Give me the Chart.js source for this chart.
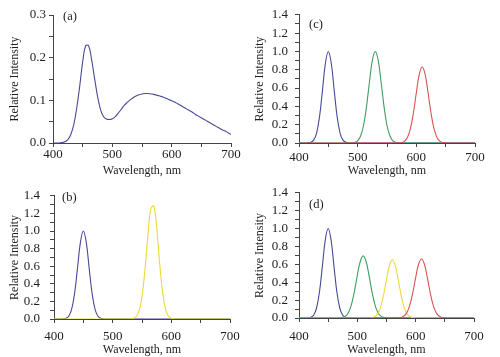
<!DOCTYPE html>
<html><head><meta charset="utf-8">
<script src="https://cdn.jsdelivr.net/npm/chart.js@4.4.0/dist/chart.umd.min.js"></script>
<style>
html,body{margin:0;padding:0;background:#fff;}
#wrap{position:relative;width:500px;height:357px;overflow:hidden;background:#fff;}
canvas{position:absolute;}
</style></head>
<body><div id="wrap">
<canvas id="ca" width="250" height="178" style="left:0;top:0"></canvas>
<canvas id="cc" width="250" height="178" style="left:250px;top:0"></canvas>
<canvas id="cb" width="250" height="179" style="left:0;top:178px"></canvas>
<canvas id="cd" width="250" height="179" style="left:250px;top:178px"></canvas>
</div>
<script>
// wavelength grid, 400..700 nm step 5
const wavelengths = [400,405,410,415,420,425,430,435,440,445,450,455,460,465,470,475,480,485,490,495,500,505,510,515,520,525,530,535,540,545,550,555,560,565,570,575,580,585,590,595,600,605,610,615,620,625,630,635,640,645,650,655,660,665,670,675,680,685,690,695,700];
const xTickLabels = [400,500,600,700];
const panelLabels = ['(a)','(b)','(c)','(d)'];

// (a) white LED spectrum
const aWhite = [0,0,0,0.001,0.003,0.008,0.02,0.043,0.082,0.133,
  0.19,0.228,0.228,0.196,0.152,0.11,0.079,0.062,0.056,0.055,
  0.057,0.062,0.07,0.079,0.088,0.095,0.101,0.106,0.110,0.113,
  0.115,0.116,0.116,0.115,0.114,0.112,0.110,0.108,0.105,0.102,
  0.099,0.096,0.092,0.088,0.084,0.080,0.076,0.072,0.067,0.063,
  0.059,0.055,0.051,0.047,0.043,0.039,0.035,0.031,0.028,0.024,
  0.02];
// blue peak (~450 nm), used in b, c, d
const blue = [0,0,0,0.001,0.007,0.031,0.109,0.287,0.575,0.871,
  1.0,0.871,0.575,0.287,0.109,0.031,0.007,0.001,0,0,
  0,0,0,0,0,0,0,0,0,0,
  0,0,0,0,0,0,0,0,0,0,
  0,0,0,0,0,0,0,0,0,0,
  0,0,0,0,0,0,0,0,0,0,
  0];
// (b) yellow peak ~568 nm
const bYellow = [0,0,0,0,0,0,0,0,0,0,
  0,0,0,0,0,0,0,0,0,0,
  0,0,0,0,0,0,0.001,0.006,0.026,0.092,
  0.255,0.56,0.95,1.25,1.285,1.04,0.64,0.31,0.115,0.034,
  0.008,0.001,0,0,0,0,0,0,0,0,
  0,0,0,0,0,0,0,0,0,0,
  0];
// (c) green ~530, red ~610
const cGreen = [0,0,0,0,0,0,0,0,0,0,
  0,0,0,0,0,0,0,0,0.001,0.006,
  0.024,0.076,0.191,0.395,0.661,0.902,1.0,0.902,0.661,0.395,
  0.191,0.076,0.024,0.006,0.001,0,0,0,0,0,
  0,0,0,0,0,0,0,0,0,0,
  0,0,0,0,0,0,0,0,0,0,
  0];
const cRed = [0,0,0,0,0,0,0,0,0,0,
  0,0,0,0,0,0,0,0,0,0,
  0,0,0,0,0,0,0,0,0,0,
  0,0,0,0,0.001,0.005,0.02,0.063,0.159,0.328,
  0.549,0.749,0.83,0.749,0.549,0.328,0.159,0.063,0.02,0.005,
  0.001,0,0,0,0,0,0,0,0,0,
  0];
// (d) green ~510, yellow ~560, red ~610
const dGreen = [0,0,0,0,0,0,0,0,0,0,
  0,0,0,0,0.002,0.007,0.023,0.065,0.153,0.297,
  0.476,0.632,0.695,0.632,0.476,0.297,0.153,0.065,0.023,0.007,
  0.002,0,0,0,0,0,0,0,0,0,
  0,0,0,0,0,0,0,0,0,0,
  0,0,0,0,0,0,0,0,0,0,
  0];
const dYellow = [0,0,0,0,0,0,0,0,0,0,
  0,0,0,0,0,0,0,0,0,0,
  0,0,0,0,0.001,0.004,0.016,0.049,0.124,0.257,
  0.43,0.586,0.65,0.586,0.43,0.257,0.124,0.049,0.016,0.004,
  0.001,0,0,0,0,0,0,0,0,0,
  0,0,0,0,0,0,0,0,0,0,
  0];
const dRed = [0,0,0,0,0,0,0,0,0,0,
  0,0,0,0,0,0,0,0,0,0,
  0,0,0,0,0,0,0,0,0,0,
  0,0,0,0,0.002,0.006,0.022,0.062,0.145,0.282,
  0.452,0.601,0.66,0.601,0.452,0.282,0.145,0.062,0.022,0.006,
  0.002,0,0,0,0,0,0,0,0,0,
  0];

const C = {blue:'#4a4a98', green:'#3f9e60', red:'#d85450', yellow:'#f0d83a', white:'#4a4a98'};
const FONT = '"Liberation Serif", "Times New Roman", serif';
const TXT = '#1e1e1e';

function pts(ys){ return wavelengths.map((x,i)=>({x:x,y:ys[i]})); }

const panelLabelPlugin = {
  id:'panelLabel',
  afterDraw(chart, args, opts){
    const ctx = chart.ctx, a = chart.chartArea;
    ctx.save();
    ctx.font = '12.5px ' + FONT;
    ctx.fillStyle = TXT;
    ctx.textBaseline = 'middle';
    ctx.textAlign = 'left';
    ctx.fillText(opts.text, a.left + opts.dx, a.top + opts.dy);
    ctx.restore();
  }
};

function make(id, series, g){
  const datasets = series.map(s=>({
    data: pts(s.values), borderColor: s.color, borderWidth: 1.1,
    pointRadius: 0, tension: 0.4, fill: false, order: s.order
  }));
  return new Chart(document.getElementById(id), {
    type:'line',
    data:{datasets},
    plugins:[panelLabelPlugin],
    options:{
      responsive:false, animation:false, devicePixelRatio:1,
      layout:{padding:{left:0, right:g.right, top:g.top, bottom:0}},
      plugins:{legend:{display:false}, tooltip:{enabled:false},
        panelLabel:{text:g.label, dx:g.ldx, dy:g.ldy}},
      scales:{
        x:{type:'linear', min:400, max:700,
          afterFit(s){ s.height = g.xh; },
          ticks:{stepSize:50, autoSkip:false, maxRotation:0, padding:g.xpad, color:TXT,
            font:{family:FONT, size:13},
            callback:(v)=> xTickLabels.includes(v) ? String(v) : ''},
          grid:{drawOnChartArea:false, drawTicks:true, tickLength:4, color:'#444'},
          border:{color:'#444', width:1},
          title:{display:true, text:'Wavelength, nm', color:TXT, font:{family:FONT, size:12}, padding:{top:g.xtp, bottom:0}}
        },
        y:{min:0, max:g.ymax,
          afterFit(s){ s.width = g.yw; },
          ticks:{stepSize:g.ystep, autoSkip:false, padding:g.ypad, color:TXT,
            font:{family:FONT, size:13},
            callback:(v)=>{ const k = Math.round(v/g.ystep); return k % 2 === 0 ? v.toFixed(1) : ''; }},
          grid:{drawOnChartArea:false, drawTicks:true, tickLength:4, color:'#444'},
          border:{color:'#444', width:1},
          title:{display:true, text:'Relative Intensity', color:TXT, font:{family:FONT, size:12}, padding:{top:g.ytp, bottom:0}}
        }
      }
    }
  });
}

make('ca', [{values:aWhite, color:C.white, order:0}],
  {right:19, top:15, xh:35, yw:53, ymax:0.3, ystep:0.05, xpad:0, ypad:3, xtp:8, ytp:8, label:panelLabels[0], ldx:10, ldy:2});
make('cb', [{values:blue, color:C.blue, order:1},{values:bYellow, color:C.yellow, order:0}],
  {right:20, top:12, xh:38, yw:54, ymax:1.4, ystep:0.1, xpad:6, ypad:10, xtp:0, ytp:8, label:panelLabels[1], ldx:8, ldy:2});
make('cc', [{values:blue, color:C.blue, order:2},{values:cGreen, color:C.green, order:1},{values:cRed, color:C.red, order:0}],
  {right:25, top:14, xh:35, yw:49, ymax:1.4, ystep:0.1, xpad:3, ypad:7, xtp:8, ytp:3, label:panelLabels[2], ldx:10, ldy:10});
make('cd', [{values:blue, color:C.blue, order:3},{values:dGreen, color:C.green, order:2},{values:dYellow, color:C.yellow, order:1},{values:dRed, color:C.red, order:0}],
  {right:26, top:11, xh:39, yw:49, ymax:1.4, ystep:0.1, xpad:7, ypad:7, xtp:0, ytp:3, label:panelLabels[3], ldx:10, ldy:12});
</script>
</body></html>
